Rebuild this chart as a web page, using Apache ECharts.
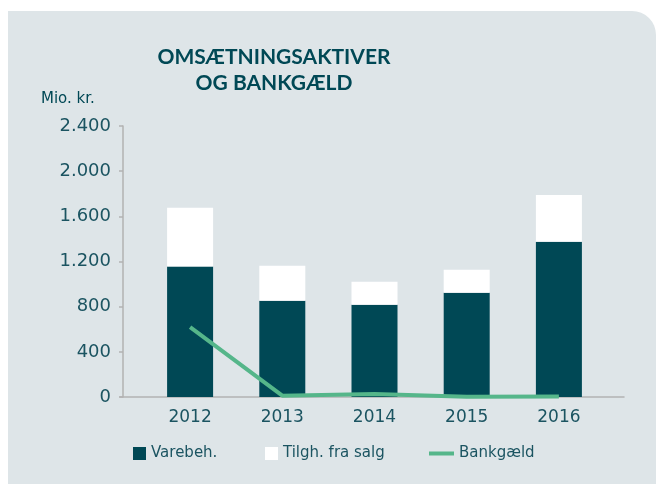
<!DOCTYPE html>
<html>
<head>
<meta charset="utf-8">
<script src="https://cdn.jsdelivr.net/npm/echarts@6/dist/echarts.min.js"></script>
<style>html,body{margin:0;padding:0;background:#fff}#c{width:656px;height:484px}</style>
</head>
<body>
<div id="c"></div>
<script>
const years = ['2012', '2013', '2014', '2015', '2016'];
const varebeh = [1155, 853, 817, 924, 1375];
const tilgh = [521, 310, 204, 203, 415];
const bankgaeld = [618, 12, 27, 2, 4];
const yTicks = [0, 400, 800, 1200, 1600, 2000, 2400];

const dark = '#004855';
const green = '#55b68a';
const txt = '#1b5461';
const axisGray = '#b2b2b2';
const font = 'DejaVu Sans';

const chart = echarts.init(document.getElementById('c'));
chart.setOption({
  backgroundColor: '#ffffff',
  animation: false,
  graphic: [{
    type: 'rect', z: -10, silent: true,
    shape: { x: 8, y: 11, width: 648, height: 473, r: [0, 24, 0, 0] },
    style: { fill: '#dee5e8' }
  }],
  title: [{
    text: 'OMSÆTNINGSAKTIVER\nOG BANKGÆLD',
    left: 269, top: 39, textAlign: 'center',
    textStyle: { fontFamily: 'Lato', fontWeight: 'bold', fontSize: 21, lineHeight: 26, color: dark }
  }, {
    text: 'Mio. kr.',
    left: 36, top: 87,
    textStyle: { fontFamily: font, fontWeight: 'normal', fontSize: 15, color: dark }
  }],
  legend: [{
    data: ['Varebeh.'], left: 128, top: 441, itemWidth: 13, itemHeight: 13, icon: 'rect',
    textStyle: { fontFamily: font, fontSize: 15, color: txt }
  }, {
    data: ['Tilgh. fra salg'], left: 260, top: 441, itemWidth: 13, itemHeight: 13, icon: 'rect',
    textStyle: { fontFamily: font, fontSize: 15, color: txt }
  }, {
    data: ['Bankgæld'], left: 424, top: 441, itemWidth: 25, itemHeight: 4, icon: 'rect',
    textStyle: { fontFamily: font, fontSize: 15, color: txt }
  }],
  grid: [
    { left: 144, right: 51, top: 126, bottom: 87 },
    { left: 120, right: 32, top: 126, bottom: 87 }
  ],
  xAxis: [{
    type: 'category', data: years, gridIndex: 0,
    axisLine: { show: false }, axisTick: { show: false },
    axisLabel: { fontFamily: font, fontSize: 17, color: txt, margin: 12 }
  }, {
    type: 'value', gridIndex: 1, min: 0, max: 1,
    axisLine: { show: true, lineStyle: { color: axisGray, width: 1.5 } },
    axisTick: { show: false }, axisLabel: { show: false }, splitLine: { show: false }
  }],
  yAxis: [{
    type: 'value', gridIndex: 0, min: yTicks[0], max: yTicks[yTicks.length - 1], interval: 400,
    offset: 21,
    axisLine: { show: true, lineStyle: { color: axisGray, width: 1.5 } },
    axisTick: { show: true, length: 4, lineStyle: { color: axisGray, width: 1.5 } },
    splitLine: { show: false },
    axisLabel: {
      fontFamily: font, fontSize: 18, color: txt, margin: 12,
      formatter: v => v.toString().replace(/\B(?=(\d{3})+(?!\d))/g, '.')
    }
  }, {
    type: 'value', gridIndex: 1, show: false, min: 0, max: 1
  }],
  series: [{
    name: 'Varebeh.', type: 'bar', stack: 'a', barWidth: 46,
    itemStyle: { color: dark }, data: varebeh
  }, {
    name: 'Tilgh. fra salg', type: 'bar', stack: 'a', barWidth: 46,
    itemStyle: { color: '#ffffff' }, data: tilgh
  }, {
    name: 'Bankgæld', type: 'line', symbol: 'none', z: 5,
    lineStyle: { color: green, width: 4 }, itemStyle: { color: green },
    data: bankgaeld
  }]
});
</script>
</body>
</html>
